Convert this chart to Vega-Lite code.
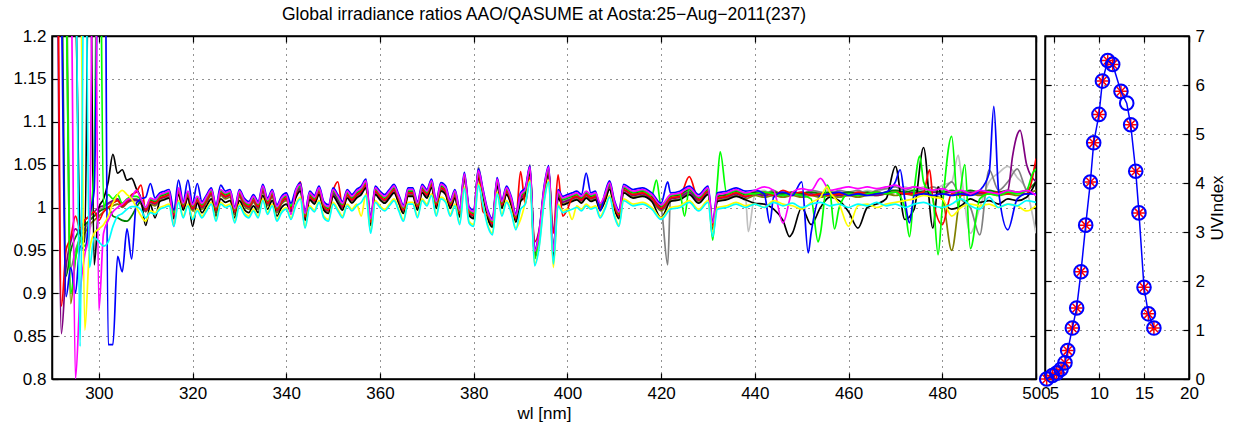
{
"$schema": "https://vega.github.io/schema/vega-lite/v6.json",
"background": "white",
"padding": {"left": 5, "top": 4, "right": 5, "bottom": 5},
"bounds": "flush",
"spacing": 9,
"config": {
 "font": "Liberation Sans",
 "view": {"stroke": "black", "strokeWidth": 1.5},
 "axis": {"labelFont": "Liberation Sans", "labelFontSize": 17, "labelColor": "black", "titleFont": "Liberation Sans", "titleFontSize": 17, "titleFontWeight": "normal", "titleColor": "black", "domainColor": "black", "domainWidth": 1.5, "tickColor": "black", "tickSize": -6, "tickWidth": 1.2, "labelPadding": 12, "gridColor": "black", "gridDash": [1, 5], "gridOpacity": 0.85, "gridWidth": 1, "labelFlush": false, "labelOverlap": false},
 "title": {"font": "Liberation Sans", "fontSize": 17.5, "fontWeight": "normal", "color": "black"}
},
"hconcat": [
{
 "width": 984, "height": 343,
 "title": {"text": "Global irradiance ratios AAO/QASUME at Aosta:25−Aug−2011(237)", "anchor": "middle", "frame": "group", "offset": 4},
 "layer": [
 {
  "data": {"values": [
{"w":290,"lg":1.5,"gy":1.6,"ol":1.6,"pu":1.5,"dg":1.5,"k":1.5,"r":1.6,"g":1.7,"b":1.8,"m":1.5,"y":1.5,"c":1.5},
{"w":291,"lg":1.45,"gy":1.5,"ol":1.45,"pu":1.35,"dg":1.4,"k":1.45,"r":1.45,"g":1.55,"b":1.6,"m":1.45,"y":1.45,"c":1.45},
{"w":292,"lg":1.4,"gy":1.4,"ol":1.35,"pu":0.853,"dg":1.3,"k":1.4,"r":0.885,"g":1.4,"b":1.25,"m":1.4,"y":1.4,"c":1.4},
{"w":293,"lg":1.35,"gy":1.3,"ol":1.25,"pu":0.93,"dg":0.92,"k":1.35,"r":0.95,"g":1.25,"b":0.896,"m":1.35,"y":1.35,"c":1.35},
{"w":294,"lg":1.3,"gy":0.93,"ol":0.888,"pu":0.96,"dg":0.95,"k":1.3,"r":0.965,"g":0.9,"b":0.93,"m":1.3,"y":1.3,"c":1.3},
{"w":295,"lg":1.25,"gy":0.95,"ol":0.94,"pu":0.975,"dg":0.965,"k":1.25,"r":0.99,"g":0.94,"b":0.9,"m":0.8,"y":1.25,"c":1.3},
{"w":296,"lg":0.95,"gy":0.965,"ol":0.96,"pu":0.97,"dg":0.975,"k":0.97,"r":0.975,"g":0.965,"b":0.955,"m":0.9,"y":1.3,"c":0.838},
{"w":297,"lg":0.965,"gy":0.975,"ol":0.97,"pu":0.985,"dg":0.98,"k":0.96,"r":0.985,"g":0.955,"b":0.95,"m":0.945,"y":0.857,"c":1.4},
{"w":298,"lg":0.975,"gy":0.985,"ol":0.98,"pu":0.99,"dg":0.985,"k":1.4,"r":0.99,"g":0.98,"b":0.99,"m":0.97,"y":0.95,"c":0.93},
{"w":299,"lg":0.985,"gy":0.99,"ol":0.985,"pu":0.995,"dg":0.99,"k":0.933,"r":0.995,"g":1.05,"b":1.02,"m":1.5,"y":0.97,"c":0.965},
{"w":300,"lg":0.99,"gy":0.995,"ol":0.99,"pu":1.0,"dg":0.995,"k":1.0,"r":0.985,"g":1.5,"b":1.4,"m":0.88,"y":0.975,"c":0.96},
{"w":301,"lg":0.995,"gy":1.0,"ol":0.995,"pu":1.002,"dg":0.998,"k":1.01,"r":0.995,"g":1.0,"b":1.6,"m":0.97,"y":0.98,"c":0.955},
{"w":302,"lg":1.0,"gy":1.004,"ol":1.0,"pu":1.005,"dg":1.0,"k":1.03,"r":1.0,"g":1.015,"b":0.84,"m":0.985,"y":0.99,"c":0.96},
{"w":303,"lg":1.002,"gy":1.006,"ol":1.002,"pu":1.008,"dg":0.99,"k":1.062,"r":1.005,"g":1.01,"b":0.84,"m":0.995,"y":1.005,"c":0.978},
{"w":304,"lg":1.004,"gy":1.008,"ol":1.004,"pu":1.01,"dg":0.988,"k":1.04,"r":1.008,"g":1.015,"b":0.943,"m":1.0,"y":1.015,"c":0.99},
{"w":305,"lg":1.001,"gy":1.002,"ol":1.0,"pu":1.001,"dg":0.985,"k":1.044,"r":1.002,"g":1.005,"b":0.925,"m":1.004,"y":1.02,"c":0.993},
{"w":306,"lg":1.006,"gy":1.007,"ol":1.005,"pu":1.006,"dg":0.984,"k":1.032,"r":1.007,"g":1.01,"b":0.975,"m":1.009,"y":1.015,"c":0.998},
{"w":307,"lg":1.009,"gy":1.01,"ol":1.008,"pu":1.009,"dg":0.99,"k":1.034,"r":1.015,"g":1.013,"b":0.94,"m":1.012,"y":1.01,"c":1.001},
{"w":308,"lg":1.009,"gy":1.01,"ol":1.008,"pu":1.009,"dg":1.0,"k":1.022,"r":1.018,"g":1.013,"b":1.005,"m":1.02,"y":1.0,"c":1.001},
{"w":309,"lg":1.005,"gy":1.006,"ol":1.004,"pu":1.005,"dg":1.007,"k":1.01,"r":1.026,"g":1.009,"b":1.01,"m":1.01,"y":0.99,"c":0.997},
{"w":310,"lg":0.996,"gy":0.997,"ol":0.995,"pu":0.996,"dg":0.998,"k":0.979,"r":0.997,"g":1.0,"b":1.012,"m":1.0,"y":0.984,"c":0.988},
{"w":311,"lg":1.006,"gy":1.007,"ol":1.004,"pu":1.006,"dg":1.009,"k":1.003,"r":1.007,"g":1.01,"b":1.028,"m":1.011,"y":0.996,"c":0.994},
{"w":312,"lg":1.004,"gy":1.005,"ol":1.002,"pu":1.004,"dg":1.007,"k":0.988,"r":1.005,"g":1.008,"b":1.011,"m":1.009,"y":0.994,"c":0.992},
{"w":313,"lg":1.01,"gy":1.011,"ol":1.008,"pu":1.01,"dg":1.013,"k":1.007,"r":1.011,"g":1.014,"b":1.017,"m":1.015,"y":1.0,"c":0.998},
{"w":314,"lg":1.012,"gy":1.013,"ol":1.01,"pu":1.012,"dg":1.015,"k":1.009,"r":1.013,"g":1.016,"b":1.019,"m":1.017,"y":1.002,"c":1.0},
{"w":315,"lg":1.014,"gy":1.015,"ol":1.012,"pu":1.014,"dg":1.017,"k":1.011,"r":1.015,"g":1.018,"b":1.021,"m":1.019,"y":1.004,"c":1.002},
{"w":316,"lg":0.99,"gy":0.991,"ol":0.988,"pu":0.99,"dg":0.993,"k":0.987,"r":0.991,"g":0.994,"b":0.997,"m":0.978,"y":0.98,"c":0.978},
{"w":317,"lg":1.018,"gy":1.019,"ol":1.016,"pu":1.018,"dg":1.021,"k":1.015,"r":1.019,"g":1.022,"b":1.032,"m":1.023,"y":1.008,"c":1.006},
{"w":318,"lg":1.0,"gy":1.001,"ol":0.998,"pu":1.0,"dg":1.003,"k":0.997,"r":1.001,"g":1.004,"b":1.007,"m":1.005,"y":0.99,"c":0.988},
{"w":319,"lg":1.014,"gy":1.015,"ol":1.012,"pu":1.014,"dg":1.017,"k":1.011,"r":1.015,"g":1.018,"b":1.032,"m":1.019,"y":1.004,"c":1.002},
{"w":320,"lg":0.998,"gy":0.999,"ol":0.996,"pu":0.998,"dg":1.001,"k":0.978,"r":0.999,"g":1.002,"b":1.005,"m":1.003,"y":0.988,"c":0.986},
{"w":321,"lg":1.008,"gy":1.009,"ol":1.006,"pu":1.008,"dg":1.011,"k":1.005,"r":1.009,"g":1.012,"b":1.028,"m":1.013,"y":0.998,"c":0.996},
{"w":322,"lg":1.0,"gy":1.001,"ol":0.998,"pu":1.0,"dg":1.003,"k":0.994,"r":1.001,"g":1.004,"b":1.007,"m":1.005,"y":0.99,"c":0.988},
{"w":323,"lg":1.008,"gy":1.009,"ol":1.006,"pu":1.008,"dg":1.011,"k":1.002,"r":1.009,"g":1.012,"b":1.015,"m":1.013,"y":0.998,"c":0.996},
{"w":324,"lg":1.016,"gy":1.017,"ol":1.014,"pu":1.016,"dg":1.019,"k":1.01,"r":1.017,"g":1.02,"b":1.023,"m":1.021,"y":1.006,"c":1.004},
{"w":325,"lg":0.996,"gy":0.997,"ol":0.994,"pu":0.996,"dg":0.999,"k":0.99,"r":0.997,"g":1.0,"b":1.003,"m":1.001,"y":0.986,"c":0.984},
{"w":326,"lg":1.016,"gy":1.017,"ol":1.014,"pu":1.016,"dg":1.019,"k":1.01,"r":1.017,"g":1.02,"b":1.026,"m":1.021,"y":1.006,"c":1.004},
{"w":327,"lg":1.012,"gy":1.013,"ol":1.01,"pu":1.012,"dg":1.015,"k":1.006,"r":1.013,"g":1.016,"b":1.019,"m":1.017,"y":1.002,"c":1.0},
{"w":328,"lg":1.014,"gy":1.015,"ol":1.012,"pu":1.014,"dg":1.017,"k":1.008,"r":1.015,"g":1.018,"b":1.021,"m":1.019,"y":1.004,"c":1.002},
{"w":329,"lg":0.994,"gy":0.995,"ol":0.992,"pu":0.994,"dg":0.997,"k":0.988,"r":0.995,"g":0.998,"b":1.001,"m":0.999,"y":0.984,"c":0.982},
{"w":330,"lg":1.014,"gy":1.015,"ol":1.012,"pu":1.014,"dg":1.017,"k":1.008,"r":1.015,"g":1.018,"b":1.021,"m":1.019,"y":1.004,"c":1.002},
{"w":331,"lg":1.004,"gy":1.005,"ol":1.002,"pu":1.004,"dg":1.007,"k":0.998,"r":1.005,"g":1.008,"b":1.011,"m":1.009,"y":0.994,"c":0.992},
{"w":332,"lg":1.0,"gy":1.001,"ol":0.998,"pu":1.0,"dg":1.003,"k":0.994,"r":1.001,"g":1.004,"b":1.007,"m":1.005,"y":0.99,"c":0.988},
{"w":333,"lg":1.008,"gy":1.009,"ol":1.006,"pu":1.008,"dg":1.011,"k":1.002,"r":1.009,"g":1.012,"b":1.015,"m":1.013,"y":0.998,"c":0.996},
{"w":334,"lg":1.0,"gy":1.001,"ol":0.998,"pu":1.0,"dg":1.003,"k":0.994,"r":1.001,"g":1.004,"b":1.007,"m":1.005,"y":0.99,"c":0.988},
{"w":335,"lg":1.02,"gy":1.021,"ol":1.018,"pu":1.02,"dg":1.023,"k":1.014,"r":1.021,"g":1.024,"b":1.027,"m":1.025,"y":1.01,"c":1.008},
{"w":336,"lg":1.004,"gy":1.005,"ol":1.002,"pu":1.004,"dg":1.007,"k":0.998,"r":1.005,"g":1.008,"b":1.011,"m":1.009,"y":0.994,"c":0.992},
{"w":337,"lg":1.014,"gy":1.015,"ol":1.012,"pu":1.014,"dg":1.017,"k":1.008,"r":1.015,"g":1.018,"b":1.021,"m":1.019,"y":1.004,"c":1.002},
{"w":338,"lg":0.996,"gy":0.997,"ol":0.994,"pu":0.996,"dg":0.999,"k":0.99,"r":0.997,"g":1.0,"b":1.003,"m":1.001,"y":0.986,"c":0.984},
{"w":339,"lg":1.006,"gy":1.007,"ol":1.004,"pu":1.006,"dg":1.009,"k":1.0,"r":1.007,"g":1.01,"b":1.013,"m":1.011,"y":0.996,"c":0.994},
{"w":340,"lg":1.01,"gy":1.011,"ol":1.008,"pu":1.01,"dg":1.013,"k":1.004,"r":1.011,"g":1.014,"b":1.017,"m":1.015,"y":1.0,"c":0.998},
{"w":341,"lg":0.998,"gy":0.999,"ol":0.996,"pu":0.998,"dg":1.001,"k":0.995,"r":0.999,"g":1.002,"b":1.005,"m":0.992,"y":0.988,"c":0.986},
{"w":342,"lg":1.014,"gy":1.015,"ol":1.012,"pu":1.014,"dg":1.017,"k":1.011,"r":1.015,"g":1.018,"b":1.021,"m":1.019,"y":1.004,"c":1.002},
{"w":343,"lg":1.022,"gy":1.023,"ol":1.02,"pu":1.022,"dg":1.025,"k":1.019,"r":1.03,"g":1.026,"b":1.029,"m":1.027,"y":1.012,"c":1.01},
{"w":344,"lg":0.988,"gy":0.989,"ol":0.986,"pu":0.988,"dg":0.991,"k":0.985,"r":0.989,"g":0.992,"b":0.995,"m":0.993,"y":0.978,"c":0.976},
{"w":345,"lg":1.012,"gy":1.013,"ol":1.01,"pu":1.012,"dg":1.015,"k":1.009,"r":1.013,"g":1.016,"b":1.019,"m":1.017,"y":1.002,"c":1.0},
{"w":346,"lg":1.007,"gy":1.008,"ol":1.005,"pu":1.007,"dg":1.01,"k":1.004,"r":1.008,"g":1.011,"b":1.014,"m":1.012,"y":0.997,"c":0.995},
{"w":347,"lg":1.018,"gy":1.019,"ol":1.016,"pu":1.018,"dg":1.021,"k":1.015,"r":1.019,"g":1.022,"b":1.025,"m":1.023,"y":1.008,"c":1.006},
{"w":348,"lg":1.0,"gy":1.001,"ol":0.998,"pu":1.0,"dg":1.003,"k":0.997,"r":1.001,"g":1.004,"b":1.007,"m":1.005,"y":0.99,"c":0.988},
{"w":349,"lg":0.996,"gy":0.997,"ol":0.994,"pu":0.996,"dg":0.999,"k":0.993,"r":0.997,"g":1.0,"b":1.003,"m":1.001,"y":0.986,"c":0.984},
{"w":350,"lg":1.016,"gy":1.017,"ol":1.014,"pu":1.016,"dg":1.019,"k":1.013,"r":1.02,"g":1.02,"b":1.023,"m":1.021,"y":1.006,"c":1.004},
{"w":351,"lg":1.008,"gy":1.009,"ol":1.006,"pu":1.008,"dg":1.011,"k":1.005,"r":1.03,"g":1.012,"b":1.015,"m":1.013,"y":0.998,"c":0.996},
{"w":352,"lg":1.0,"gy":1.001,"ol":0.998,"pu":1.0,"dg":1.003,"k":0.997,"r":1.001,"g":1.004,"b":1.007,"m":1.005,"y":0.99,"c":0.988},
{"w":353,"lg":1.014,"gy":1.015,"ol":1.012,"pu":1.014,"dg":1.017,"k":1.011,"r":1.015,"g":1.018,"b":1.021,"m":1.019,"y":1.004,"c":1.002},
{"w":354,"lg":1.008,"gy":1.009,"ol":1.006,"pu":1.008,"dg":1.011,"k":1.005,"r":1.009,"g":1.012,"b":1.015,"m":1.013,"y":0.998,"c":0.996},
{"w":355,"lg":1.014,"gy":1.015,"ol":1.012,"pu":1.014,"dg":1.017,"k":1.011,"r":1.015,"g":1.018,"b":1.021,"m":1.019,"y":1.004,"c":1.002},
{"w":356,"lg":1.018,"gy":1.019,"ol":1.016,"pu":1.018,"dg":1.021,"k":1.015,"r":1.019,"g":1.022,"b":1.025,"m":1.023,"y":0.99,"c":1.006},
{"w":357,"lg":1.026,"gy":1.027,"ol":1.024,"pu":1.026,"dg":1.029,"k":1.023,"r":1.027,"g":1.03,"b":1.033,"m":1.031,"y":1.016,"c":1.014},
{"w":358,"lg":0.982,"gy":0.983,"ol":0.98,"pu":0.982,"dg":0.985,"k":0.979,"r":0.983,"g":0.986,"b":0.989,"m":0.987,"y":0.972,"c":0.97},
{"w":359,"lg":1.018,"gy":1.019,"ol":1.016,"pu":1.018,"dg":1.021,"k":1.015,"r":1.019,"g":1.022,"b":1.025,"m":1.023,"y":1.008,"c":1.006},
{"w":360,"lg":1.012,"gy":1.013,"ol":1.01,"pu":1.012,"dg":1.015,"k":1.009,"r":1.013,"g":1.016,"b":1.019,"m":1.017,"y":1.002,"c":1.0},
{"w":361,"lg":1.008,"gy":1.009,"ol":1.006,"pu":1.008,"dg":1.011,"k":1.005,"r":1.009,"g":1.012,"b":1.015,"m":1.013,"y":0.998,"c":0.996},
{"w":362,"lg":1.014,"gy":1.015,"ol":1.012,"pu":1.014,"dg":1.017,"k":1.011,"r":1.015,"g":1.018,"b":1.021,"m":1.019,"y":1.004,"c":1.002},
{"w":363,"lg":1.02,"gy":1.021,"ol":1.018,"pu":1.02,"dg":1.023,"k":1.017,"r":1.021,"g":1.024,"b":1.027,"m":1.025,"y":1.01,"c":1.008},
{"w":364,"lg":1.008,"gy":1.009,"ol":1.006,"pu":1.008,"dg":1.011,"k":1.005,"r":1.009,"g":1.012,"b":1.015,"m":1.013,"y":0.998,"c":0.996},
{"w":365,"lg":0.996,"gy":0.997,"ol":0.994,"pu":0.996,"dg":0.999,"k":0.993,"r":0.997,"g":1.0,"b":1.003,"m":1.001,"y":0.986,"c":0.984},
{"w":366,"lg":1.016,"gy":1.017,"ol":1.014,"pu":1.016,"dg":1.019,"k":1.013,"r":1.017,"g":1.02,"b":1.023,"m":1.021,"y":1.006,"c":1.004},
{"w":367,"lg":1.016,"gy":1.017,"ol":1.014,"pu":1.016,"dg":1.019,"k":1.013,"r":1.017,"g":1.02,"b":1.023,"m":1.021,"y":1.006,"c":1.004},
{"w":368,"lg":1.0,"gy":1.001,"ol":0.998,"pu":1.0,"dg":1.003,"k":0.997,"r":1.001,"g":1.004,"b":1.007,"m":1.005,"y":0.99,"c":0.988},
{"w":369,"lg":1.02,"gy":1.021,"ol":1.018,"pu":1.02,"dg":1.023,"k":1.017,"r":1.021,"g":1.024,"b":1.027,"m":1.025,"y":1.01,"c":1.008},
{"w":370,"lg":1.014,"gy":1.015,"ol":1.012,"pu":1.014,"dg":1.017,"k":1.011,"r":1.015,"g":1.018,"b":1.021,"m":1.019,"y":1.004,"c":1.002},
{"w":371,"lg":1.026,"gy":1.027,"ol":1.024,"pu":1.026,"dg":1.029,"k":1.023,"r":1.027,"g":1.03,"b":1.033,"m":1.031,"y":1.016,"c":1.014},
{"w":372,"lg":1.002,"gy":1.003,"ol":1.0,"pu":1.002,"dg":1.005,"k":0.999,"r":1.003,"g":1.006,"b":1.009,"m":1.007,"y":0.992,"c":0.99},
{"w":373,"lg":1.022,"gy":1.023,"ol":1.02,"pu":1.022,"dg":1.025,"k":1.019,"r":1.023,"g":1.026,"b":1.029,"m":1.027,"y":1.012,"c":1.01},
{"w":374,"lg":1.018,"gy":1.019,"ol":1.016,"pu":1.018,"dg":1.021,"k":1.015,"r":1.019,"g":1.022,"b":1.025,"m":1.023,"y":1.008,"c":1.006},
{"w":375,"lg":1.002,"gy":1.003,"ol":1.0,"pu":1.002,"dg":1.005,"k":0.999,"r":1.003,"g":1.006,"b":1.009,"m":1.007,"y":0.992,"c":0.99},
{"w":376,"lg":1.014,"gy":1.015,"ol":1.012,"pu":1.014,"dg":1.017,"k":1.011,"r":1.015,"g":1.018,"b":1.021,"m":1.019,"y":1.004,"c":1.002},
{"w":377,"lg":0.992,"gy":0.993,"ol":0.99,"pu":0.992,"dg":0.995,"k":0.989,"r":0.993,"g":0.996,"b":0.999,"m":0.997,"y":0.982,"c":0.98},
{"w":378,"lg":1.034,"gy":1.035,"ol":1.032,"pu":1.034,"dg":1.037,"k":1.036,"r":1.035,"g":1.038,"b":1.041,"m":1.039,"y":1.024,"c":1.022},
{"w":379,"lg":0.994,"gy":0.995,"ol":0.992,"pu":0.994,"dg":0.997,"k":0.991,"r":0.995,"g":0.998,"b":1.001,"m":0.999,"y":0.984,"c":0.982},
{"w":380,"lg":0.99,"gy":0.991,"ol":0.988,"pu":0.99,"dg":0.993,"k":0.987,"r":0.991,"g":0.994,"b":0.997,"m":0.995,"y":0.98,"c":0.978},
{"w":381,"lg":1.038,"gy":1.047,"ol":1.036,"pu":1.038,"dg":1.041,"k":1.035,"r":1.039,"g":1.042,"b":1.045,"m":1.043,"y":1.028,"c":1.026},
{"w":382,"lg":1.014,"gy":1.015,"ol":1.012,"pu":1.014,"dg":1.017,"k":1.011,"r":0.995,"g":1.018,"b":1.021,"m":1.019,"y":1.004,"c":1.002},
{"w":383,"lg":0.99,"gy":0.991,"ol":0.988,"pu":0.99,"dg":0.993,"k":0.987,"r":0.991,"g":0.994,"b":0.997,"m":0.995,"y":0.98,"c":0.978},
{"w":384,"lg":0.98,"gy":0.981,"ol":0.978,"pu":0.98,"dg":0.983,"k":0.977,"r":0.981,"g":0.984,"b":0.987,"m":0.985,"y":0.97,"c":0.968},
{"w":385,"lg":1.028,"gy":1.029,"ol":1.026,"pu":1.028,"dg":1.031,"k":1.025,"r":1.032,"g":1.032,"b":1.035,"m":1.033,"y":1.018,"c":1.016},
{"w":386,"lg":1.002,"gy":1.003,"ol":1.0,"pu":1.002,"dg":1.005,"k":0.999,"r":1.003,"g":1.006,"b":1.009,"m":1.007,"y":0.992,"c":0.99},
{"w":387,"lg":1.018,"gy":1.019,"ol":1.016,"pu":1.018,"dg":1.021,"k":1.015,"r":1.019,"g":1.022,"b":1.025,"m":1.023,"y":1.008,"c":1.006},
{"w":388,"lg":1.006,"gy":1.007,"ol":1.004,"pu":1.006,"dg":1.009,"k":1.003,"r":1.007,"g":1.01,"b":1.013,"m":1.011,"y":0.996,"c":0.994},
{"w":389,"lg":0.986,"gy":0.987,"ol":0.984,"pu":0.986,"dg":0.989,"k":0.983,"r":0.987,"g":0.99,"b":0.993,"m":0.991,"y":0.976,"c":0.974},
{"w":390,"lg":1.01,"gy":1.011,"ol":1.008,"pu":1.01,"dg":1.013,"k":1.007,"r":1.042,"g":1.014,"b":1.017,"m":1.015,"y":0.986,"c":0.998},
{"w":391,"lg":1.016,"gy":1.017,"ol":1.014,"pu":1.016,"dg":1.019,"k":1.013,"r":1.004,"g":1.02,"b":1.023,"m":1.021,"y":1.006,"c":1.004},
{"w":392,"lg":1.042,"gy":1.05,"ol":1.04,"pu":1.042,"dg":1.045,"k":1.039,"r":1.036,"g":1.046,"b":1.049,"m":1.047,"y":1.032,"c":1.03},
{"w":393,"lg":0.944,"gy":0.945,"ol":0.942,"pu":0.944,"dg":0.947,"k":0.941,"r":0.96,"g":0.94,"b":0.951,"m":0.949,"y":0.934,"c":0.932},
{"w":394,"lg":0.967,"gy":0.968,"ol":0.965,"pu":0.967,"dg":0.97,"k":0.964,"r":0.975,"g":0.971,"b":0.974,"m":0.972,"y":0.957,"c":0.955},
{"w":395,"lg":1.017,"gy":1.018,"ol":1.015,"pu":1.017,"dg":1.02,"k":1.014,"r":1.018,"g":1.021,"b":1.024,"m":1.022,"y":1.007,"c":1.005},
{"w":396,"lg":1.042,"gy":1.043,"ol":1.04,"pu":1.042,"dg":1.045,"k":1.039,"r":1.043,"g":1.046,"b":1.049,"m":1.047,"y":1.032,"c":1.03},
{"w":397,"lg":0.944,"gy":0.945,"ol":0.942,"pu":0.944,"dg":0.947,"k":0.941,"r":0.97,"g":0.948,"b":0.951,"m":0.949,"y":0.93,"c":0.934},
{"w":398,"lg":1.014,"gy":1.015,"ol":1.012,"pu":1.014,"dg":1.017,"k":1.011,"r":1.038,"g":1.018,"b":1.021,"m":1.019,"y":1.004,"c":1.002},
{"w":399,"lg":1.006,"gy":1.007,"ol":1.004,"pu":1.006,"dg":1.009,"k":1.003,"r":0.99,"g":1.01,"b":1.013,"m":1.011,"y":0.996,"c":0.994},
{"w":400,"lg":1.008,"gy":1.009,"ol":1.006,"pu":1.008,"dg":1.011,"k":1.005,"r":0.998,"g":1.012,"b":1.015,"m":1.013,"y":0.998,"c":0.996},
{"w":401,"lg":1.01,"gy":1.011,"ol":1.008,"pu":1.01,"dg":1.013,"k":1.007,"r":1.011,"g":1.014,"b":1.017,"m":1.015,"y":0.986,"c":0.998},
{"w":402,"lg":1.012,"gy":1.013,"ol":1.01,"pu":1.012,"dg":1.015,"k":1.009,"r":1.013,"g":1.016,"b":1.019,"m":1.017,"y":1.002,"c":1.0},
{"w":403,"lg":1.008,"gy":1.009,"ol":1.006,"pu":1.008,"dg":1.011,"k":1.005,"r":1.009,"g":1.012,"b":1.015,"m":1.013,"y":0.998,"c":0.996},
{"w":404,"lg":1.014,"gy":1.015,"ol":1.012,"pu":1.014,"dg":1.017,"k":1.011,"r":1.015,"g":1.018,"b":1.04,"m":1.019,"y":1.004,"c":1.002},
{"w":405,"lg":1.01,"gy":1.011,"ol":1.008,"pu":1.01,"dg":1.013,"k":1.007,"r":1.011,"g":1.014,"b":1.017,"m":1.015,"y":1.0,"c":0.998},
{"w":406,"lg":1.012,"gy":1.013,"ol":1.01,"pu":1.012,"dg":1.015,"k":1.009,"r":1.013,"g":1.016,"b":1.019,"m":1.017,"y":1.002,"c":1.0},
{"w":407,"lg":1.0,"gy":1.001,"ol":0.998,"pu":1.0,"dg":1.003,"k":0.997,"r":1.001,"g":1.004,"b":0.996,"m":1.005,"y":0.99,"c":0.988},
{"w":408,"lg":1.01,"gy":1.011,"ol":1.008,"pu":1.01,"dg":1.013,"k":1.007,"r":1.011,"g":1.014,"b":1.017,"m":1.015,"y":1.0,"c":0.998},
{"w":409,"lg":1.024,"gy":1.025,"ol":1.022,"pu":1.024,"dg":1.027,"k":1.021,"r":1.03,"g":1.028,"b":1.031,"m":1.029,"y":1.014,"c":1.012},
{"w":410,"lg":1.002,"gy":1.003,"ol":1.0,"pu":1.002,"dg":1.005,"k":0.999,"r":1.003,"g":1.006,"b":1.009,"m":1.007,"y":0.992,"c":0.99},
{"w":411,"lg":0.99,"gy":0.991,"ol":0.988,"pu":0.99,"dg":0.993,"k":0.987,"r":0.991,"g":0.994,"b":0.997,"m":0.995,"y":0.98,"c":0.978},
{"w":412,"lg":1.02,"gy":1.021,"ol":1.018,"pu":1.02,"dg":1.023,"k":1.017,"r":1.021,"g":1.024,"b":1.027,"m":1.025,"y":1.01,"c":1.008},
{"w":414,"lg":1.014,"gy":1.015,"ol":1.012,"pu":1.014,"dg":1.017,"k":1.011,"r":1.015,"g":1.018,"b":1.021,"m":1.019,"y":1.004,"c":1.002},
{"w":416,"lg":1.016,"gy":1.017,"ol":1.014,"pu":1.016,"dg":1.019,"k":1.013,"r":1.017,"g":1.02,"b":1.023,"m":1.021,"y":1.006,"c":1.004},
{"w":418,"lg":1.01,"gy":1.011,"ol":1.008,"pu":1.01,"dg":1.013,"k":1.007,"r":1.011,"g":1.014,"b":1.017,"m":1.015,"y":1.0,"c":0.998},
{"w":419,"g":1.032},
{"w":420,"lg":0.998,"gy":0.999,"ol":0.996,"pu":0.998,"dg":1.001,"k":0.988,"r":0.999,"g":1.002,"b":1.005,"m":1.003,"y":0.988,"c":0.986},
{"w":421.4,"gy":0.933,"b":1.03},
{"w":422,"lg":1.01,"gy":1.011,"ol":1.008,"pu":1.01,"dg":1.013,"k":1.007,"r":1.011,"g":1.014,"b":1.017,"m":1.015,"y":1.0,"c":0.998},
{"w":424,"lg":1.012,"gy":1.013,"ol":1.01,"pu":1.012,"dg":1.015,"k":1.009,"r":1.013,"g":1.016,"b":1.019,"m":1.017,"y":1.002,"c":1.0},
{"w":425,"g":0.99},
{"w":426,"lg":1.018,"gy":1.019,"ol":1.016,"pu":1.018,"dg":1.021,"k":1.015,"r":1.036,"g":1.022,"b":1.025,"m":1.023,"y":1.008,"c":1.006},
{"w":428,"lg":1.008,"gy":1.009,"ol":1.006,"pu":1.008,"dg":1.011,"k":1.005,"r":1.009,"g":1.012,"b":1.015,"m":1.013,"y":0.998,"c":0.996},
{"w":430,"lg":1.018,"gy":1.019,"ol":1.016,"pu":1.018,"dg":1.021,"k":1.015,"r":1.019,"g":1.022,"b":1.025,"m":1.023,"y":1.008,"c":1.006},
{"w":431,"lg":0.977,"gy":0.978,"ol":0.975,"pu":0.977,"dg":0.98,"k":0.974,"r":0.978,"g":0.962,"b":0.984,"m":0.982,"y":0.972,"c":0.966},
{"w":432,"lg":1.01,"gy":1.011,"ol":1.008,"pu":1.01,"dg":1.013,"k":1.007,"r":1.011,"g":1.03,"b":1.017,"m":1.015,"y":1.0,"c":0.998},
{"w":432.6,"g":1.065},
{"w":434,"lg":1.012,"gy":1.013,"ol":1.01,"pu":1.012,"dg":1.015,"k":1.009,"r":1.013,"g":1.016,"b":1.019,"m":1.017,"y":1.002,"c":1.0},
{"w":436,"lg":1.016,"gy":1.017,"ol":1.014,"pu":1.016,"dg":1.019,"k":1.013,"r":1.017,"g":1.02,"b":1.023,"m":1.021,"y":1.006,"c":1.004},
{"w":438,"lg":1.012,"gy":1.013,"ol":1.01,"pu":1.012,"dg":1.015,"k":1.009,"r":1.013,"g":1.016,"b":1.019,"m":1.017,"y":1.002,"c":1.0},
{"w":438.6,"lg":0.972},
{"w":440,"lg":1.015,"gy":1.018,"ol":1.014,"pu":1.016,"dg":1.018,"k":1.005,"r":1.016,"g":1.016,"b":1.02,"m":1.02,"y":1.004,"c":1.004},
{"w":442,"lg":1.02,"gy":1.016,"ol":1.012,"pu":1.014,"dg":1.016,"k":1.004,"r":1.018,"g":1.018,"b":1.016,"m":1.024,"y":1.0,"c":1.0},
{"w":443.2,"b":0.982},
{"w":444,"lg":1.012,"gy":1.02,"ol":1.014,"pu":1.016,"dg":1.018,"k":0.998,"r":1.014,"g":1.016,"b":1.012,"m":1.02,"y":1.008,"c":1.006},
{"w":446,"lg":1.016,"gy":1.014,"ol":1.012,"pu":1.014,"dg":1.016,"k":0.985,"r":1.02,"g":1.014,"b":1.018,"m":0.982,"y":1.004,"c":1.002},
{"w":447.4,"k":0.966},
{"w":448,"lg":1.014,"gy":1.018,"ol":1.014,"pu":1.016,"dg":1.018,"k":0.97,"r":1.016,"g":1.016,"b":1.014,"m":1.018,"y":1.002,"c":1.005},
{"w":450,"lg":1.018,"gy":1.016,"ol":1.012,"pu":1.014,"dg":1.016,"k":1.0,"r":1.018,"g":1.014,"b":1.03,"m":1.022,"y":0.998,"c":1.0},
{"w":451.4,"b":0.947},
{"w":452,"lg":1.014,"gy":1.02,"ol":1.014,"pu":1.016,"dg":1.018,"k":0.98,"r":1.014,"g":1.01,"b":0.97,"m":1.02,"y":1.006,"c":1.004},
{"w":453.5,"g":0.96},
{"w":454,"lg":1.016,"gy":1.018,"ol":1.012,"pu":1.014,"dg":1.016,"k":1.0,"r":1.016,"g":0.97,"b":1.014,"m":1.034,"y":1.012,"c":1.006},
{"w":455.4,"g":1.026,"y":1.024},
{"w":456,"lg":1.02,"gy":1.016,"ol":1.014,"pu":1.016,"dg":1.018,"k":1.012,"r":1.014,"g":1.02,"b":1.016,"m":1.02,"y":1.018,"c":1.002},
{"w":457,"g":0.975},
{"w":458,"lg":1.016,"gy":1.02,"ol":1.012,"pu":1.014,"dg":1.016,"k":1.008,"r":1.016,"g":1.0,"b":1.018,"m":1.022,"y":1.004,"c":1.004},
{"w":460,"lg":1.018,"gy":1.018,"ol":1.014,"pu":1.016,"dg":1.018,"k":0.995,"r":1.014,"g":1.016,"b":1.014,"m":1.024,"y":0.978,"c":1.0},
{"w":462,"lg":1.016,"gy":1.02,"ol":1.012,"pu":1.014,"dg":1.016,"k":0.976,"r":1.018,"g":1.014,"b":1.016,"m":1.022,"y":1.002,"c":1.004},
{"w":464,"lg":1.02,"gy":1.016,"ol":1.014,"pu":1.016,"dg":1.018,"k":1.0,"r":1.016,"g":1.016,"b":1.014,"m":1.024,"y":1.004,"c":1.002},
{"w":466,"lg":1.018,"gy":1.02,"ol":1.014,"pu":1.014,"dg":1.016,"k":1.004,"r":1.018,"g":1.018,"b":1.016,"m":1.022,"y":1.0,"c":1.006},
{"w":468,"lg":1.022,"gy":1.022,"ol":1.016,"pu":1.016,"dg":1.018,"k":1.01,"r":1.016,"g":1.016,"b":1.018,"m":1.024,"y":1.004,"c":1.002},
{"w":470,"lg":1.02,"gy":1.024,"ol":1.014,"pu":1.018,"dg":1.02,"k":1.048,"r":1.018,"g":1.018,"b":1.03,"m":1.026,"y":1.006,"c":1.004},
{"w":471,"b":1.044},
{"w":472,"lg":1.024,"gy":1.02,"ol":1.016,"pu":1.016,"dg":1.018,"k":0.986,"r":1.016,"g":1.0,"b":1.01,"m":1.022,"y":1.008,"c":1.0},
{"w":473,"b":0.982,"g":0.966},
{"w":474,"lg":1.02,"gy":1.024,"ol":1.014,"pu":1.018,"dg":1.02,"k":0.998,"r":1.016,"g":1.02,"b":1.014,"m":1.024,"y":1.01,"c":1.004},
{"w":475.2,"g":1.06},
{"w":476,"lg":1.024,"gy":1.02,"ol":1.016,"pu":1.016,"dg":1.018,"k":1.07,"r":1.018,"g":1.03,"b":1.016,"m":1.022,"y":1.014,"c":1.006},
{"w":477.3,"r":1.044},
{"w":478,"lg":1.02,"gy":1.024,"ol":1.014,"pu":1.018,"dg":1.02,"k":0.976,"r":1.01,"g":1.01,"b":1.014,"m":1.02,"y":1.012,"c":1.002},
{"w":479.1,"g":0.945,"k":1.024},
{"w":480,"lg":1.026,"gy":1.02,"ol":1.01,"pu":1.016,"dg":1.018,"k":1.01,"r":0.98,"g":1.0,"b":1.016,"m":1.022,"y":1.01,"c":1.0},
{"w":482,"lg":1.03,"gy":1.03,"ol":0.95,"pu":1.018,"dg":1.02,"k":0.998,"r":1.016,"g":1.083,"b":1.014,"m":1.018,"y":0.99,"c":1.004},
{"w":483.4,"lg":1.061,"g":1.0},
{"w":484,"lg":1.04,"gy":1.01,"ol":1.014,"pu":1.016,"dg":1.018,"k":1.002,"r":1.014,"g":1.025,"b":1.016,"m":1.02,"y":1.0,"c":1.01},
{"w":484.8,"g":1.05},
{"w":486,"lg":0.97,"gy":1.0,"ol":1.016,"pu":1.018,"dg":1.02,"k":1.01,"r":1.016,"g":0.952,"b":1.014,"m":1.016,"y":1.004,"c":1.002},
{"w":488,"lg":1.0,"gy":0.968,"ol":1.014,"pu":1.016,"dg":1.018,"k":1.006,"r":1.018,"g":1.01,"b":1.02,"m":1.02,"y":1.002,"c":0.998},
{"w":490,"lg":1.03,"gy":1.044,"ol":1.016,"pu":1.018,"dg":1.02,"k":1.008,"r":1.016,"g":1.016,"b":1.04,"m":1.018,"y":1.004,"c":1.012},
{"w":491,"b":1.118},
{"w":492,"lg":1.04,"gy":1.02,"ol":1.014,"pu":1.016,"dg":1.018,"k":1.004,"r":1.018,"g":1.014,"b":1.02,"m":1.016,"y":1.0,"c":1.0},
{"w":494,"lg":1.048,"gy":1.03,"ol":1.016,"pu":1.02,"dg":1.02,"k":1.01,"r":1.016,"g":1.018,"b":0.974,"m":1.02,"y":1.004,"c":1.004},
{"w":495,"pu":1.06},
{"w":496,"lg":1.035,"gy":1.045,"ol":1.014,"pu":1.085,"dg":1.018,"k":1.008,"r":1.018,"g":1.016,"b":1.01,"m":1.018,"y":1.002,"c":1.002},
{"w":496.6,"pu":1.09},
{"w":498,"lg":1.02,"gy":1.02,"ol":1.016,"pu":1.05,"dg":1.02,"k":1.012,"r":1.016,"g":1.02,"b":1.016,"m":1.02,"y":0.996,"c":1.008},
{"w":499.3,"g":1.04},
{"w":500,"lg":0.97,"gy":1.015,"ol":1.02,"pu":1.03,"dg":1.03,"k":1.03,"r":1.057,"g":1.045,"b":1.016,"m":1.014,"y":1.002,"c":1.006}
  ]},
  "transform": [
   {"fold": ["lg","gy","ol","pu","dg","k","r","g","b","m","y","c"], "as": ["s","v"]},
   {"filter": "datum.v != null"}
  ],
  "mark": {"type": "line", "clip": true, "strokeWidth": 1.7, "interpolate": "monotone"},
  "encoding": {
   "x": {"field": "w", "type": "quantitative", "scale": {"domain": [290, 500], "nice": false, "zero": false},
         "axis": {"orient": "bottom", "title": "wl [nm]", "titlePadding": 4, "values": [300,320,340,360,380,400,420,440,460,480,500], "format": "d", "grid": true}},
   "y": {"field": "v", "type": "quantitative", "scale": {"domain": [0.8, 1.2], "nice": false, "zero": false},
         "axis": {"orient": "left", "title": null, "values": [0.8,0.85,0.9,0.95,1,1.05,1.1,1.15,1.2], "format": "~g", "grid": true, "minExtent": 46, "maxExtent": 46}},
   "color": {"field": "s", "type": "nominal", "legend": null,
             "scale": {"domain": ["lg","gy","ol","pu","dg","k","r","g","b","m","y","c"],
                       "range": ["#c0c0c0","#808080","#808000","#800080","#008000","#000000","#ff0000","#00ff00","#0000ff","#ff00ff","#ffff00","#00ffff"]}}
  }
 },
 {
  "data": {"values": [{"w": 300, "v": 1}]},
  "mark": {"type": "point", "opacity": 0},
  "encoding": {
   "x": {"field": "w", "type": "quantitative", "axis": {"orient": "top", "labels": false, "title": null, "grid": false, "values": [300,320,340,360,380,400,420,440,460,480,500], "minExtent": 0, "maxExtent": 0}},
   "y": {"field": "v", "type": "quantitative", "axis": {"orient": "right", "labels": false, "title": null, "grid": false, "values": [0.8,0.85,0.9,0.95,1,1.05,1.1,1.15,1.2], "minExtent": 0, "maxExtent": 0}}
  }
 }
 ],
 "resolve": {"axis": {"x": "independent", "y": "independent"}}
},
{
 "width": 144, "height": 343,
 "data": {"values": [
  {"h":4.19,"u":0.0,"ast":true},{"h":4.82,"u":0.07,"ast":true},{"h":5.3,"u":0.12,"ast":true},{"h":5.78,"u":0.2,"ast":true},
  {"h":6.22,"u":0.33,"ast":true},{"h":6.52,"u":0.58,"ast":true},{"h":7.04,"u":1.04,"ast":true},{"h":7.52,"u":1.45,"ast":true},
  {"h":8.0,"u":2.19,"ast":true},{"h":8.52,"u":3.14,"ast":true},{"h":9.04,"u":4.02,"ast":true},{"h":9.41,"u":4.82,"ast":true},
  {"h":10.0,"u":5.4,"ast":true},{"h":10.38,"u":6.08,"ast":true},{"h":10.97,"u":6.5,"ast":true},{"h":11.52,"u":6.42,"ast":true},
  {"h":12.44,"u":5.87,"ast":true},{"h":13.08,"u":5.63,"ast":false},{"h":13.52,"u":5.19,"ast":true},{"h":14.08,"u":4.24,"ast":true},
  {"h":14.44,"u":3.39,"ast":true},{"h":15.0,"u":1.87,"ast":true},{"h":15.49,"u":1.33,"ast":true},{"h":16.1,"u":1.04,"ast":true}
 ]},
 "layer": [
  {
   "transform": [{"filter": "datum.ast"}],
   "mark": {"type": "point", "shape": "M-1,0L1,0M0,-1L0,1M-0.7,-0.7L0.7,0.7M-0.7,0.7L0.7,-0.7", "size": 150, "color": "#ff0000", "filled": false, "strokeWidth": 1.5, "opacity": 1},
   "encoding": {
    "x": {"field": "h", "type": "quantitative", "scale": {"domain": [4, 20], "nice": false, "zero": false},
          "axis": {"orient": "bottom", "title": null, "values": [5,10,15,20], "format": "d", "grid": true}},
    "y": {"field": "u", "type": "quantitative", "scale": {"domain": [0, 7], "nice": false, "zero": false},
          "axis": {"orient": "right", "title": "UVIndex", "titleAngle": 270, "titleBaseline": "top", "titlePadding": 5, "values": [0,1,2,3,4,5,6,7], "format": "d", "grid": true}}
   }
  },
  {
   "mark": {"type": "line", "color": "#0000ff", "strokeWidth": 1.5},
   "encoding": {
    "x": {"field": "h", "type": "quantitative", "axis": null},
    "y": {"field": "u", "type": "quantitative", "axis": null}
   }
  },
  {
   "mark": {"type": "point", "shape": "circle", "size": 185, "color": "#0000ff", "filled": false, "strokeWidth": 2, "opacity": 1},
   "encoding": {
    "x": {"field": "h", "type": "quantitative", "axis": null},
    "y": {"field": "u", "type": "quantitative", "axis": null}
   }
  },
  {
   "mark": {"type": "point", "opacity": 0},
   "encoding": {
    "x": {"field": "h", "type": "quantitative", "axis": {"orient": "top", "labels": false, "title": null, "grid": false, "values": [5,10,15,20], "minExtent": 0, "maxExtent": 0}},
    "y": {"field": "u", "type": "quantitative", "axis": {"orient": "left", "labels": false, "title": null, "grid": false, "values": [0,1,2,3,4,5,6,7], "minExtent": 0, "maxExtent": 0}}
   }
  }
 ],
 "resolve": {"axis": {"x": "independent", "y": "independent"}}
}
]
}
